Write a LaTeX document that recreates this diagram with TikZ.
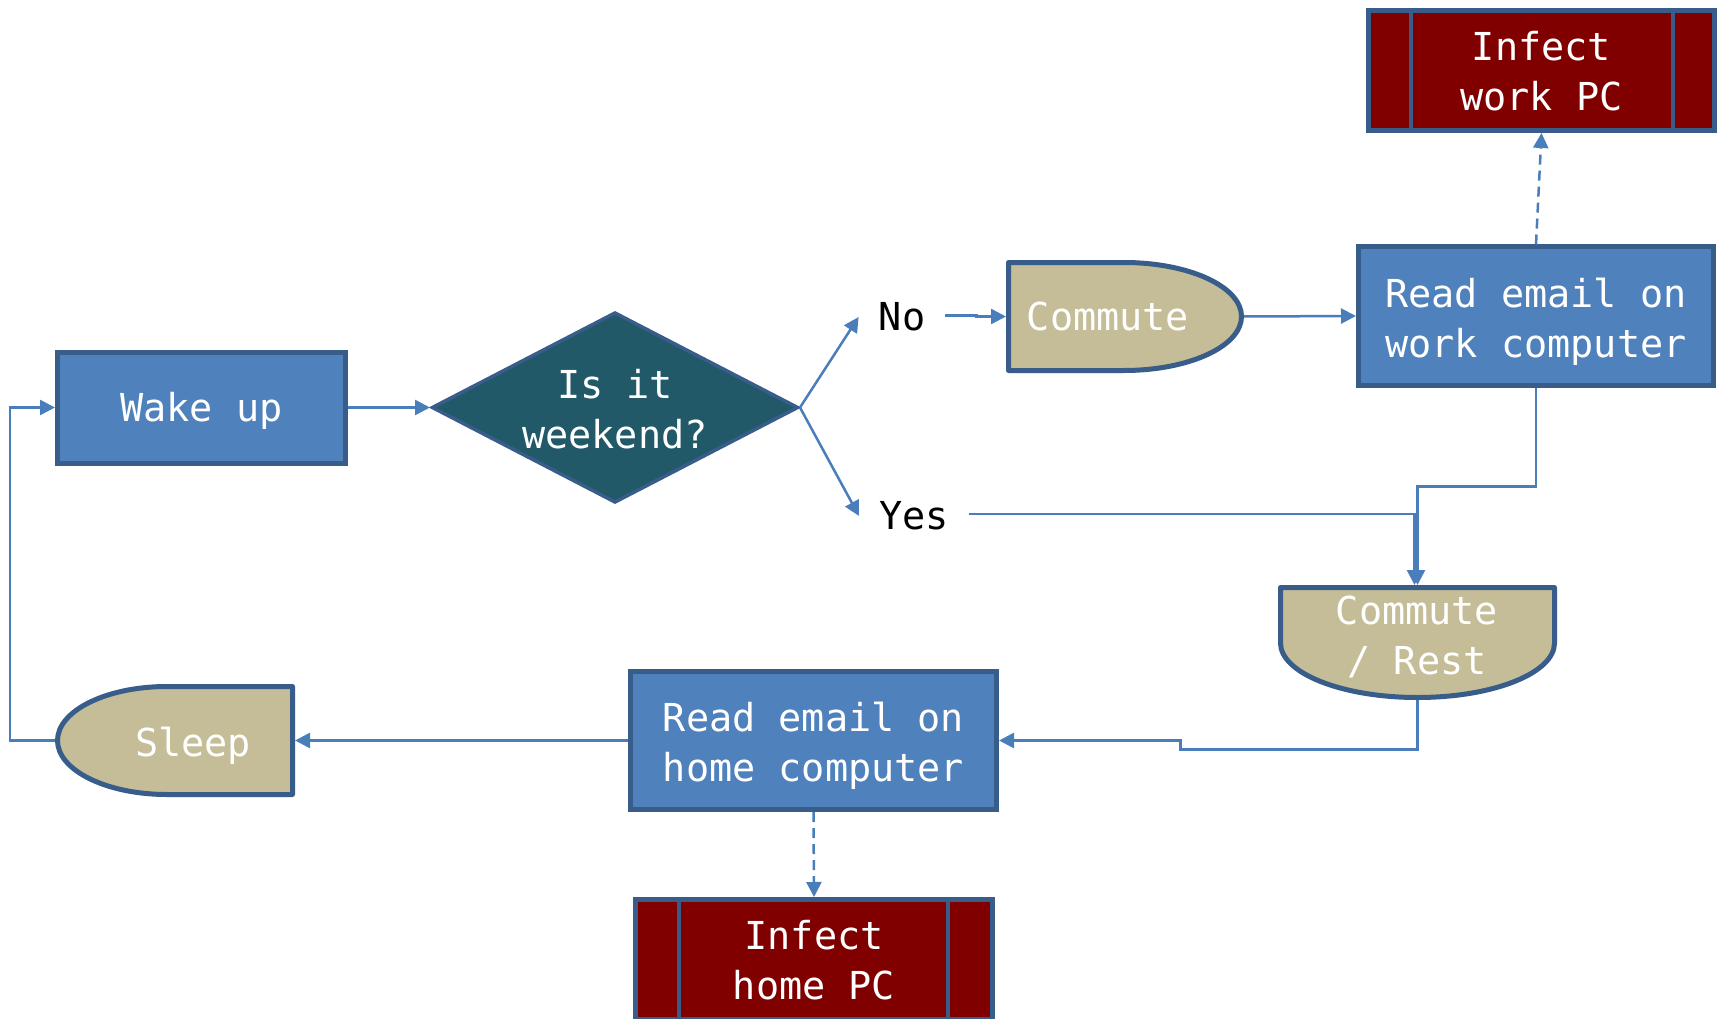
\documentclass[tikz,border=0pt]{standalone}
\usepackage{fontspec}
\setmonofont{DejaVu Sans Mono}
\usetikzlibrary{arrows.meta,shapes.geometric}

\definecolor{boxblue}{HTML}{4F81BD}
\definecolor{edgeblue}{HTML}{385D8A}
\definecolor{decteal}{HTML}{215968}
\definecolor{sand}{HTML}{C4BD97}
\definecolor{darkred}{HTML}{800000}
\definecolor{linkblue}{HTML}{4A7EBB}

\tikzset{
  lbl/.style={font=\ttfamily\fontsize{38.5}{50}\selectfont, align=center},
  captext/.style={lbl, text=white},
  process/.style={rectangle, draw=edgeblue, fill=boxblue,
    line width=5pt, inner sep=0pt},
  decision/.style={diamond, aspect=1.9, draw=edgeblue, fill=decteal,
    line width=3.5pt, inner sep=0pt},
  infect/.style={rectangle, draw=edgeblue, fill=darkred,
    line width=5pt, inner sep=0pt},
  holder/.style={rectangle, inner sep=0pt, outer sep=0pt},
  delayfill/.style={draw=edgeblue, fill=sand, line width=5pt, line join=round},
  answer/.style={lbl, text=black, inner xsep=20pt, inner ysep=0pt},
  link/.style={draw=linkblue, line width=2.5pt, -{Triangle[length=15pt,width=15pt]}},
  dashlink/.style={link, dash pattern=on 10pt off 6pt},
  divider/.style={draw=edgeblue, line width=3.5pt}
}

\begin{document}
\begin{tikzpicture}[x=1pt, y=-1pt]
  \useasboundingbox[fill=white] (0,0) rectangle (1719,1019);

  % delay-shaped outlines (rounded on one side)
  \path[delayfill] (1008.5,262.5) -- (1124,262.5)
    arc[start angle=90, end angle=-90, x radius=117.5pt, y radius=54pt]
    -- (1008.5,370.5) -- cycle;
  \path[delayfill] (1280.5,643) -- (1280.5,587.5) -- (1554.5,587.5) -- (1554.5,643)
    arc[start angle=0, end angle=-180, x radius=137pt, y radius=54.5pt] -- cycle;
  \path[delayfill] (292.5,686.5) -- (167,686.5)
    arc[start angle=90, end angle=270, x radius=109.5pt, y radius=54pt]
    -- (292.5,794.5) -- cycle;

  % nodes
  \node[process, minimum width=288pt, minimum height=111pt,
        label={[captext, yshift=-3.5pt]center:Wake up}] (wake) at (201.5,407.5) {};
  \node[decision, minimum width=366.5pt, minimum height=190.5pt,
        label={[captext, yshift=-1.5pt]center:{Is it\\weekend?}}] (dec) at (615,407.5) {};
  \node[answer] (no) at (902,317) {No};
  \node[answer] (yes) at (914,516) {Yes};
  \node[holder, minimum width=238pt, minimum height=113pt,
        label={[captext, xshift=-17pt]center:Commute}] (commute) at (1125,316.5) {};
  \node[process, minimum width=355pt, minimum height=138pt,
        label={[captext, yshift=-5.5pt]center:{Read email on\\work computer}}] (work) at (1536,316) {};
  \node[infect, minimum width=346pt, minimum height=120pt,
        label={[captext, yshift=-1pt]center:{Infect\\work PC}}] (infectW) at (1541.5,70.5) {};
  \node[holder, minimum width=279pt, minimum height=115pt] (rest) at (1417.5,642.5) {};
  \node[captext] at (1417,636.5) {Commute\\/ Rest};
  \node[process, minimum width=366pt, minimum height=138pt,
        label={[captext, yshift=-5pt]center:{Read email on\\home computer}}] (home) at (813.5,740.5) {};
  \node[infect, minimum width=357pt, minimum height=120pt,
        label={[captext, yshift=-0.5pt]center:{Infect\\home PC}}] (infectH) at (814,959.5) {};
  \node[holder, minimum width=240pt, minimum height=113pt,
        label={[captext, xshift=18pt, yshift=-5pt]center:Sleep}] (sleep) at (175,740.5) {};

  % side bars of the predefined-process boxes
  \foreach \b/\l/\r in {infectW/45/44, infectH/46/47} {
    \draw[divider] ([xshift=\l pt]\b.north west) -- ([xshift=\l pt]\b.south west);
    \draw[divider] ([xshift=-\r pt]\b.north east) -- ([xshift=-\r pt]\b.south east);
  }

  % connectors
  \draw[link] (wake.east) -- (dec.west);
  \draw[link] (dec.east) -- (no.west);
  \draw[link] (dec.east) -- (yes.west);
  \draw[link] ([yshift=1.5pt]no.east) -- ++(31,0) |- (commute.west);
  \draw[link] (commute.east) -- (work.west);
  \draw[dashlink] (work.north) -- (infectW.south);
  \draw[link] (work.south) -- ++(0,99) -| (rest.north);
  \draw[link] ([yshift=2pt]yes.east) -| ([xshift=-3pt]rest.north);
  \draw[link] (rest.south) -- ++(0,49.5) -- ++(-237,0) |- (home.east);
  \draw[link] (home.west) -- (sleep.east);
  \draw[dashlink] (home.south) -- (infectH.north);
  \draw[link] (sleep.west) -- ++(-45,0) |- (wake.west);
\end{tikzpicture}
\end{document}
